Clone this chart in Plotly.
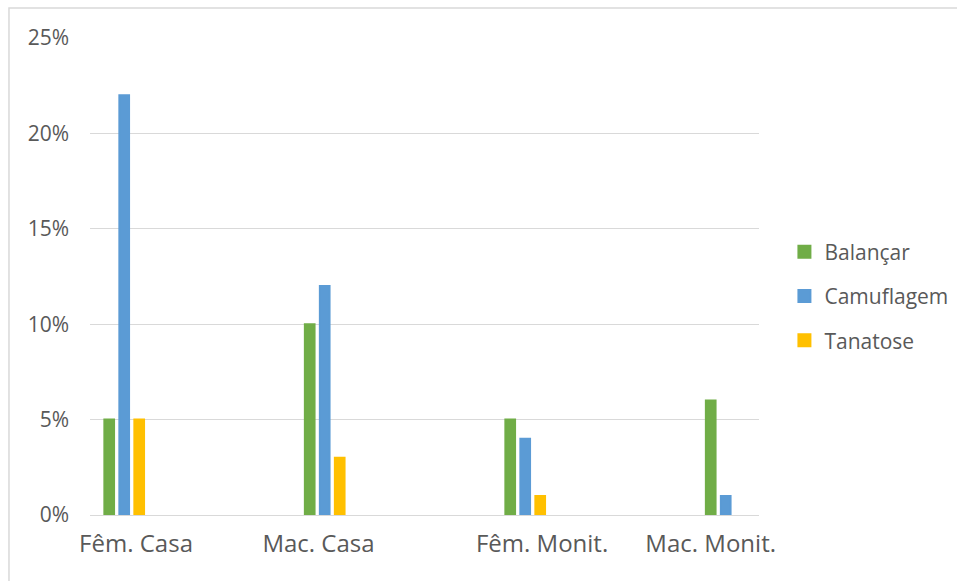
import plotly.graph_objects as go

categories = ["Fêm. Casa", "Mac. Casa", "Fêm. Monit.", "Mac. Monit."]
series_names = ["Balançar", "Camuflagem", "Tanatose"]
balancar = [0.05, 0.10, 0.05, 0.06]
camuflagem = [0.22, 0.12, 0.04, 0.01]
tanatose = [0.05, 0.03, 0.01, 0.0]
colors = ["#70AD47", "#5B9BD5", "#FFC000"]
yticks = [0, 0.05, 0.10, 0.15, 0.20, 0.25]

# cluster positions (slot index) and where the labels sit relative to them
x_pos = [0, 1, 2, 3]
label_pos = [0.059, 0.969, 2.084, 2.925]

fig = go.Figure()
for name, vals, col in zip(series_names, [balancar, camuflagem, tanatose], colors):
    fig.add_trace(go.Bar(
        x=x_pos, y=vals, name=name, marker_color=col,
        marker_line=dict(color=col, width=[2 if v > 0 else 0 for v in vals]),
        legendgroup=name,
    ))

font_family = "Open Sans, Noto Sans, sans-serif"
fig.update_layout(
    width=957, height=581,
    margin=dict(l=90, r=198, t=38, b=66, autoexpand=False),
    paper_bgcolor="white", plot_bgcolor="white",
    barmode="group", bargap=0.7756, bargroupgap=0.353,
    font=dict(family=font_family, size=21, color="#595959"),
    showlegend=True,
    legend=dict(x=1.038, y=0.459, xanchor="left", yanchor="middle",
                font=dict(size=21, color="#595959"),
                tracegroupgap=14, itemwidth=30, traceorder="grouped"),
    xaxis=dict(range=[-0.1706, 3.166], tickmode="array", tickvals=label_pos,
               ticktext=categories, showgrid=False, zeroline=False,
               showline=False, ticks="", fixedrange=True, automargin=False,
               tickfont=dict(size=24), ticklabelstandoff=12),
    yaxis=dict(range=[0, 0.25], tickmode="array", tickvals=yticks,
               ticktext=[f"{int(round(v*100))}%" for v in yticks],
               showgrid=True, gridcolor="#D9D9D9", gridwidth=1,
               zeroline=True, zerolinecolor="#D9D9D9", zerolinewidth=1,
               showline=False, ticks="", ticklabelstandoff=20, automargin=False,
               tickfont=dict(size=21)),
    shapes=[dict(type="rect", xref="paper", yref="paper",
                 x0=-0.1211, y0=-0.3, x1=1.5, y1=1.0629,
                 line=dict(color="#D9D9D9", width=1.5), fillcolor="rgba(0,0,0,0)",
                 layer="below")],
)
fig.write_html("out.html")
